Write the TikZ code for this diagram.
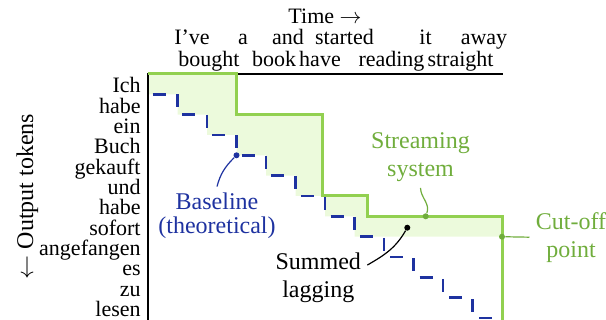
\documentclass[tikz,border=0pt]{standalone}
\usepackage{fontspec}
\setmainfont{Liberation Serif}
\definecolor{stepGreen}{RGB}{146,208,80}
\definecolor{areaGreen}{RGB}{236,250,220}
\definecolor{noteGreen}{RGB}{112,173,60}
\definecolor{baseBlue}{RGB}{30,50,160}

\begin{document}
\begin{tikzpicture}[x=0.5pt,y=0.5pt]
		\tikzstyle{every node}+=[inner sep=0pt]
		\tikzstyle{wordlbl}=[font=\fontsize{11}{13}\selectfont,anchor=base]
		\tikzstyle{toklbl}=[font=\fontsize{11}{13}\selectfont,anchor=base east]
		\tikzstyle{annot}=[font=\fontsize{12}{14}\selectfont,align=center,inner sep=3pt]
		\tikzstyle{markdot}=[circle,minimum size=3pt,inner sep=0pt]
		\tikzstyle{leaderline}=[line width=0.6pt]
		\useasboundingbox (0,0) rectangle (606,-320);
		% lagging area
		\fill [areaGreen] (148,-74) -- (236.5,-74) -- (236.5,-114.7) -- (322.5,-114.7) -- (322.5,-196) -- (367,-196) -- (367,-216.3) -- (502,-216.3) -- (502,-236.7) -- (354.5,-236.7) -- (354.5,-216.3) -- (325,-216.3) -- (325,-196) -- (295.5,-196) -- (295.5,-175.7) -- (266,-175.7) -- (266,-155.3) -- (236.5,-155.3) -- (236.5,-135) -- (207,-135) -- (207,-114.7) -- (177.5,-114.7) -- (177.5,-94.3) -- (148,-94.3) -- cycle;
		% baseline
		\draw [baseBlue, line width=1.4pt, dash pattern=on 6.5pt off 6pt] (148,-74) -- (148,-94.3) -- (177.5,-94.3) -- (177.5,-114.7) -- (207,-114.7) -- (207,-135) -- (236.5,-135) -- (236.5,-155.3) -- (266,-155.3) -- (266,-175.7) -- (295.5,-175.7) -- (295.5,-196) -- (325,-196) -- (325,-216.3) -- (354.5,-216.3) -- (354.5,-236.7) -- (384,-236.7) -- (384,-257) -- (413.5,-257) -- (413.5,-277.3) -- (443,-277.3) -- (443,-297.7) -- (472.5,-297.7) -- (472.5,-318) -- (502,-318);
		% axes
		\draw [black, line width=0.85pt] (502.5,-74) -- (148,-74) -- (148,-325);
		% streaming system
		\draw [stepGreen, line width=1.5pt] (148,-74) -- (236.5,-74) -- (236.5,-114.7) -- (322.5,-114.7) -- (322.5,-196) -- (367,-196) -- (367,-216.3) -- (502,-216.3) -- (502,-325);
		% axis titles
		\node [wordlbl] (time) at (325,-24) {Time $\rightarrow$};
		\node [font=\fontsize{12}{14}\selectfont, rotate=90, anchor=base] (outtok) at (33,-196.5) {$\leftarrow$ Output tokens};
		% source words
		\node [wordlbl] (ive) at (192,-45) {I've};
		\node [wordlbl] (bought) at (209,-66.5) {bought};
		\node [wordlbl] (a) at (243,-45) {a};
		\node [wordlbl] (book) at (274,-66.5) {book};
		\node [wordlbl] (and) at (288,-45) {and};
		\node [wordlbl] (have) at (320,-66.5) {have};
		\node [wordlbl] (started) at (344.5,-45) {started};
		\node [wordlbl] (reading) at (391.5,-66.5) {reading};
		\node [wordlbl] (it) at (425.5,-45) {it};
		\node [wordlbl] (straight) at (460.5,-66.5) {straight};
		\node [wordlbl] (away) at (484,-45) {away};
		% output tokens
		\node [toklbl] (ich) at (141,-92.8) {Ich};
		\node [toklbl] (habeA) at (141,-113.2) {habe};
		\node [toklbl] (ein) at (141,-133.5) {ein};
		\node [toklbl] (buch) at (141,-153.8) {Buch};
		\node [toklbl] (gekauft) at (141,-174.2) {gekauft};
		\node [toklbl] (und) at (141,-194.5) {und};
		\node [toklbl] (habeB) at (141,-214.8) {habe};
		\node [toklbl] (sofort) at (141,-235.2) {sofort};
		\node [toklbl] (angefangen) at (141,-255.5) {angefangen};
		\node [toklbl] (es) at (141,-275.8) {es};
		\node [toklbl] (zu) at (141,-296.2) {zu};
		\node [toklbl] (lesen) at (141,-316.5) {lesen};
		% annotations
		\node [annot, text=baseBlue, font=\fontsize{12}{12.2}\selectfont] (basetxt) at (217,-216) {Baseline\\(theoretical)};
		\node [annot, text=noteGreen] (streamtxt) at (420.5,-157) {Streaming\\system};
		\node [annot] (lagtxt) at (318.3,-278.2) {Summed\\lagging};
		\node [annot, text=noteGreen] (cuttxt) at (571,-237.2) {Cut-off\\point};
		\node [markdot, fill=baseBlue] (basedot) at (236.5,-155.3) {};
		\node [markdot, fill=noteGreen] (streamdot) at (425.7,-216.3) {};
		\node [markdot, fill=black] (lagdot) at (407.3,-227.7) {};
		\node [markdot, fill=noteGreen] (cutdot) at (502,-236.7) {};
		\draw [leaderline, baseBlue] (basetxt.north) to[out=75, in=225] (basedot);
		\draw [leaderline, noteGreen] (streamtxt.south) to[out=-88, in=70] (streamdot);
		\draw [leaderline, black] (lagtxt.15) to[out=30, in=240] (lagdot);
		\draw [leaderline, noteGreen] (cutdot) -- (cuttxt.west);
\end{tikzpicture}
\end{document}
